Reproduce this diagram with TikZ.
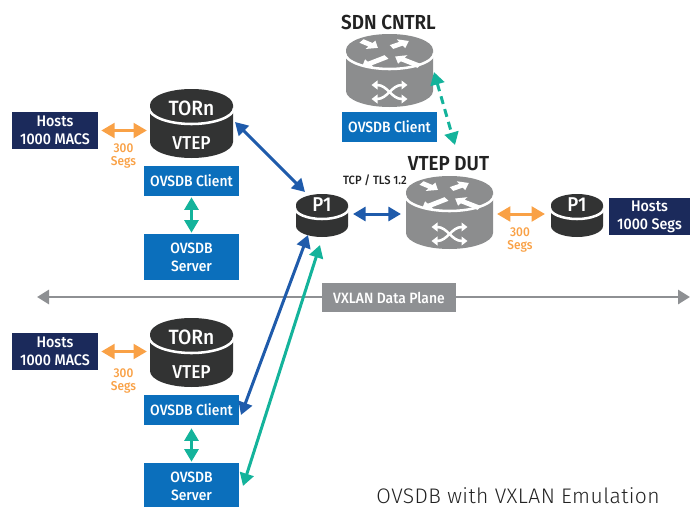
\documentclass[tikz,border=0pt]{standalone}
\usepackage{fontspec}
\setmainfont{Fira Sans}[UprightFont=* Medium,BoldFont=* SemiBold,FakeStretch=0.93]
\newfontfamily\lightfont{Fira Sans Light}[LetterSpace=2]
\usetikzlibrary{arrows.meta,calc}
\definecolor{navy}{HTML}{1B2A5B}
\definecolor{boxblue}{HTML}{0B6FBC}
\definecolor{orng}{HTML}{F9A146}
\definecolor{teal2}{HTML}{14B39B}
\definecolor{arrblue}{HTML}{1F5BAB}
\definecolor{darkcyl}{HTML}{323333}
\definecolor{rgray}{HTML}{8C8D8E}
\definecolor{lgray}{HTML}{8E9093}
\definecolor{ink}{HTML}{222222}
\tikzset{
  px/.style={x=0.75pt,y=-0.75pt},
  hostbox/.style={fill=navy,text=white,align=center,inner sep=0pt,font=\fontsize{11.5}{13.6}\selectfont},
  ovsbox/.style={fill=boxblue,text=white,align=center,inner sep=0pt,minimum width=71.25pt,font=\fontsize{11.2}{13.6}\selectfont},
  anchorbox/.style={inner sep=0pt,text=white,align=center},
  segs/.style={text=orng,align=center,inner sep=0pt,font=\fontsize{9.6}{9.8}\selectfont},
  title/.style={text=ink,inner sep=0pt,font=\bfseries\fontsize{15.2}{17}\selectfont},
  dbl/.style={line width=2.25pt,{Triangle[length=10pt,width=11pt]}-{Triangle[length=10pt,width=11pt]}},
  thin dbl/.style={line width=2.25pt,{Triangle[length=9.5pt,width=10.5pt]}-{Triangle[length=9.5pt,width=10.5pt]}},
  orangearrow/.style={dbl,draw=orng,shorten >=2.25pt,shorten <=2.25pt},
  bluearrow/.style={thin dbl,draw=arrblue},
  tealarrow/.style={thin dbl,draw=teal2},
  crossend/.style={draw=white,line width=1.9pt,{Triangle[length=4.5pt,width=6.5pt]}-{Triangle[length=4.5pt,width=6.5pt]}},
}
% \cylshape{cx}{topy}{boty}{rx}{ry}{colour}
\newcommand{\cylshape}[6]{%
  \pgfmathsetmacro{\kx}{0.5523*#4}%
  \pgfmathsetmacro{\ky}{0.5523*#5}%
  \pgfmathsetmacro{\ey}{#2+#5}%
  \pgfmathsetmacro{\wy}{#2+#5+3}%
  \pgfmathsetmacro{\by}{#3-#5}%
  \fill[#6] ({#1-#4},\ey)
     .. controls ({#1-#4},{\ey-\ky}) and ({#1-\kx},#2) .. (#1,#2)
     .. controls ({#1+\kx},#2) and ({#1+#4},{\ey-\ky}) .. ({#1+#4},\ey)
     -- ({#1+#4},\by)
     .. controls ({#1+#4},{\by+\ky}) and ({#1+\kx},#3) .. (#1,#3)
     .. controls ({#1-\kx},#3) and ({#1-#4},{\by+\ky}) .. ({#1-#4},\by)
     -- cycle;
  \draw[white,line width=1.9pt] ({#1-#4-1},\wy)
     .. controls ({#1-#4-1},{\wy+\ky}) and ({#1-\kx},{\wy+#5}) .. (#1,{\wy+#5})
     .. controls ({#1+\kx},{\wy+#5}) and ({#1+#4+1},{\wy+\ky}) .. ({#1+#4+1},\wy);
}
% flattened block arrow: \rarrow{tailx}{taily}{angle}{length}
\newcommand{\rarrow}[4]{%
  \begin{scope}[shift={(#1,#2)},yscale=.6,rotate=#3]
    \fill[white] (0,-3.6) -- ({#4-9},-3.6) -- ({#4-9},-8.5) -- (#4,0) -- ({#4-9},8.5) -- ({#4-9},3.6) -- (0,3.6) -- cycle;
  \end{scope}
}
% \router{cx}{topy}
\newcommand{\router}[2]{%
  \cylshape{#1}{#2}{#2+73}{43.5}{16}{rgray}
  \begin{scope}[shift={(#1,#2)}]
    \rarrow{-28}{7}{-35}{20}
    \rarrow{2}{13}{30}{20}
    \rarrow{-3}{23}{213}{29}
    \rarrow{30}{32}{147}{29}
    \draw[crossend] (-18,51) .. controls (-2,51) and (2,65) .. (18,65);
    \draw[crossend] (-18,65) .. controls (-2,65) and (2,51) .. (18,51);
  \end{scope}
}
\begin{document}
\begin{tikzpicture}[px]
\useasboundingbox (0,0) rectangle (690,507);

% data plane
\node[fill=lgray,text=white,inner sep=0pt,minimum width=100.5pt,minimum height=22pt,font=\fontsize{11.2}{13}\selectfont] (plane) at (389,297.5) {VXLAN Data Plane};
\coordinate (planeL) at (37,297);
\coordinate (planeR) at (690,297);
\draw[draw=lgray,line width=2.2pt,-{Triangle[length=9pt,width=10.5pt]}] (plane.west |- planeL) -- (planeL);
\draw[draw=lgray,line width=2.2pt,-{Triangle[length=9pt,width=10.5pt]}] (plane.east |- planeR) -- (planeR);

% cylinders
\cylshape{191.5}{89}{158}{41.5}{16}{darkcyl}
\node[anchorbox,minimum width=62pt,minimum height=51pt] (tor1) at (191.5,123.5) {};
\node[anchorbox,font=\fontsize{15.5}{18}\selectfont] (tor1a) at (191.5,108) {TORn};
\node[anchorbox,font=\fontsize{14}{16}\selectfont] (tor1b) at (191.5,143) {VTEP};

\cylshape{191.5}{318}{387}{41.5}{16}{darkcyl}
\node[anchorbox,minimum width=62pt,minimum height=51pt] (tor2) at (191.5,352.5) {};
\node[anchorbox,font=\fontsize{15.5}{18}\selectfont] (tor2a) at (191.5,337) {TORn};
\node[anchorbox,font=\fontsize{14}{16}\selectfont] (tor2b) at (191.5,372) {VTEP};

\cylshape{322}{194}{237}{26}{11}{darkcyl}
\node[anchorbox,minimum width=39pt,minimum height=32pt] (p1a) at (322,215.5) {};
\node[anchorbox,font=\fontsize{15}{16}\selectfont] (p1at) at (322,205) {P1};

\cylshape{577}{194}{237}{26}{11}{darkcyl}
\node[anchorbox,minimum width=39pt,minimum height=32pt] (p1b) at (577,215.5) {};
\node[anchorbox,font=\fontsize{15}{16}\selectfont] (p1bt) at (577,205) {P1};

% routers
\router{389.5}{34}
\node[inner sep=0pt,minimum width=65pt,minimum height=55pt] (sdn) at (389.5,70.5) {};
\router{449.5}{176}
\node[inner sep=0pt,minimum width=65pt,minimum height=55pt] (dut) at (449.5,212.5) {};

\node[title] (sdnt) at (388.5,22) {SDN CNTRL};
\node[title] (dutt) at (448.5,164) {VTEP DUT};
\node[text=ink,inner sep=0pt,font=\fontsize{9}{10}\selectfont] (tls) at (375,180) {TCP / TLS 1.2};

% boxes
\node[hostbox,minimum width=64.5pt,minimum height=27.75pt] (h1) at (55,130.5) {Hosts\\1000 MACS};
\node[hostbox,minimum width=64.5pt,minimum height=27.75pt] (h2) at (55,351.5) {Hosts\\1000 MACS};
\node[hostbox,minimum width=60.75pt,minimum height=27.75pt] (h3) at (649.5,216.5) {Hosts\\1000 Segs};

\node[ovsbox,minimum height=22.5pt] (c1) at (191.5,181) {OVSDB Client};
\node[ovsbox,minimum height=34.5pt] (s1) at (191.5,257) {OVSDB\\Server};
\node[ovsbox,minimum height=22.5pt] (c2) at (191.5,410) {OVSDB Client};
\node[ovsbox,minimum height=34.5pt] (s2) at (191.5,486) {OVSDB\\Server};
\node[ovsbox,minimum height=22.5pt] (c3) at (389.5,127) {OVSDB Client};

% segs labels
\node[segs] (sg1) at (123.5,156) {300\\Segs};
\node[segs] (sg2) at (123.5,381) {300\\Segs};
\node[segs] (sg3) at (520,240) {300\\Segs};

% connectors
\draw[orangearrow] (h1.east) -- (h1.east -| tor1.west);
\draw[orangearrow] (h2.east) -- (h2.east -| tor2.west);
\coordinate (a1) at (353,214);
\coordinate (a2) at (401,214);
\coordinate (a3) at (497,214);
\coordinate (a4) at (545,214);
\draw[bluearrow] (a1) -- (a2);
\draw[orangearrow,shorten >=0pt,shorten <=0pt] (a3) -- (a4);
\draw[tealarrow] (c1.south) ++(0,1) -- ($(s1.north)+(0,-1)$);
\draw[tealarrow] (c2.south) ++(0,3) -- ($(s2.north)+(0,-1)$);

\coordinate (d1) at (235,122);
\coordinate (d2) at (305,192);
\draw[bluearrow] (d1) -- (d2);
\coordinate (d3) at (308,235);
\coordinate (d4) at (241,415);
\draw[bluearrow] (d3) -- (d4);
\coordinate (d5) at (320,245);
\coordinate (d6) at (243,486);
\draw[tealarrow] (d5) -- (d6);
\coordinate (d7) at (434,72);
\coordinate (d8) at (455,145);
\draw[tealarrow,dash pattern=on 6pt off 4pt] (d7) -- (d8);

\node[inner sep=0pt,anchor=base east,text=ink,font=\lightfont\fontsize{15.8}{18}\selectfont] (cap) at (660,503) {OVSDB with VXLAN Emulation};
\end{tikzpicture}
\end{document}
